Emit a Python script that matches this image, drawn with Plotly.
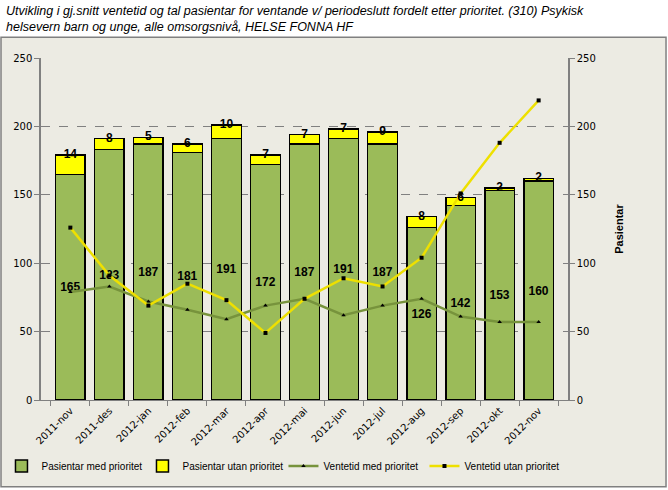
import plotly.graph_objects as go

months = ["2011-nov", "2011-des", "2012-jan", "2012-feb", "2012-mar", "2012-apr", "2012-mai",
          "2012-jun", "2012-jul", "2012-aug", "2012-sep", "2012-okt", "2012-nov"]
pas_med = [165, 183, 187, 181, 191, 172, 187, 191, 187, 126, 142, 153, 160]
pas_utan = [14, 8, 5, 6, 10, 7, 7, 7, 9, 8, 6, 2, 2]
vent_med = [79, 83, 72, 66, 59, 69, 74, 62, 69, 74, 61, 57, 57]
vent_utan = [126, 91, 69, 85, 73, 49, 74, 89, 83, 104, 151, 188, 219]

title_text = ("Utvikling i gj.snitt ventetid og tal pasientar for ventande v/ periodeslutt fordelt etter prioritet. (310) Psykisk"
              "<br>helsevern barn og unge, alle omsorgsnivå, HELSE FONNA HF")

BG = "#ECEBE3"
GREEN = "#9BBB59"
YELLOW = "#FFFF00"
LGREEN = "#77933C"
LYELLOW = "#EEE000"
tickfont = dict(family="DejaVu Sans, Verdana, sans-serif", size=10, color="black")

totals = [a + b for a, b in zip(pas_med, pas_utan)]

fig = go.Figure()
fig.add_trace(go.Bar(
    x=months, y=pas_med, name="Pasientar med prioritet",
    marker=dict(color=GREEN, line=dict(color="black", width=1.5)),
    text=[str(v) for v in pas_med], textposition="inside", insidetextanchor="middle",
    textfont=dict(family="Liberation Sans, Arial, sans-serif", size=12, color="black", weight="bold"),
    constraintext="none", yaxis="y",
))
fig.add_trace(go.Bar(
    x=months, y=pas_utan, name="Pasientar utan prioritet",
    marker=dict(color=YELLOW, line=dict(color="black", width=1.5)),
    yaxis="y",
))
fig.add_trace(go.Scatter(
    x=months, y=vent_med, name="Ventetid med prioritet", mode="lines+markers",
    line=dict(color=LGREEN, width=2.5),
    marker=dict(symbol="triangle-up", size=4, color="black"),
    yaxis="y2",
))
fig.add_trace(go.Scatter(
    x=months, y=vent_utan, name="Ventetid utan prioritet", mode="lines+markers",
    line=dict(color=LYELLOW, width=2.5),
    marker=dict(symbol="square", size=4, color="black"),
    yaxis="y2",
))
fig.add_trace(go.Scatter(
    x=months, y=totals, mode="text", text=[str(v) for v in pas_utan],
    textposition="middle center", showlegend=False, hoverinfo="skip",
    textfont=dict(family="Liberation Sans, Arial, sans-serif", size=12, color="black", weight="bold"),
    yaxis="y2",
))

fig.update_layout(
    width=668, height=490,
    margin=dict(l=41, r=100, t=58, b=90, autoexpand=False),
    paper_bgcolor="white", plot_bgcolor=BG,
    barmode="stack", bargap=0.24,
    xaxis=dict(type="category", tickangle=-45, tickfont=tickfont, tickson="boundaries",
               ticks="outside", ticklen=5, tickcolor="#808080",
               showline=True, linecolor="#808080", linewidth=1, showgrid=False),
    yaxis=dict(range=[0, 250], dtick=50, tickfont=tickfont, ticks="outside", ticklen=5,
               tickcolor="#808080", showline=True, linecolor="#808080", linewidth=1.5,
               showgrid=True, gridcolor="#808080", griddash="dash", gridwidth=1, zeroline=False),
    yaxis2=dict(range=[0, 250], dtick=50, tickfont=tickfont, overlaying="y", side="right",
                ticks="outside", ticklen=5, tickcolor="#808080", showline=True,
                linecolor="#808080", linewidth=1.5, showgrid=False, zeroline=False,
                title=dict(text="<b>Pasientar</b>", standoff=20,
                           font=dict(family="Liberation Sans, Arial, sans-serif", size=11, color="black"))),
    legend=dict(orientation="h", xref="paper", yref="paper", x=-0.075, xanchor="left",
                y=-0.193, yanchor="middle", bgcolor="rgba(0,0,0,0)", traceorder="normal",
                font=dict(family="Liberation Sans, Arial, sans-serif", size=10, color="black"),
                itemwidth=30, entrywidth=96, entrywidthmode="pixels"),
    annotations=[dict(text=title_text, xref="paper", yref="paper", x=-0.070, y=1.163,
                      xanchor="left", yanchor="top", align="left", showarrow=False,
                      font=dict(family="Liberation Sans, Arial, sans-serif", size=12.5,
                                color="black", style="italic"))],
    shapes=[dict(type="rect", xref="paper", yref="paper", x0=-0.0759, x1=1.186, y0=-0.254, y1=1.061,
                 fillcolor=BG, line=dict(color="#808080", width=1.5), layer="below")],
)

fig.write_html("out.html")
